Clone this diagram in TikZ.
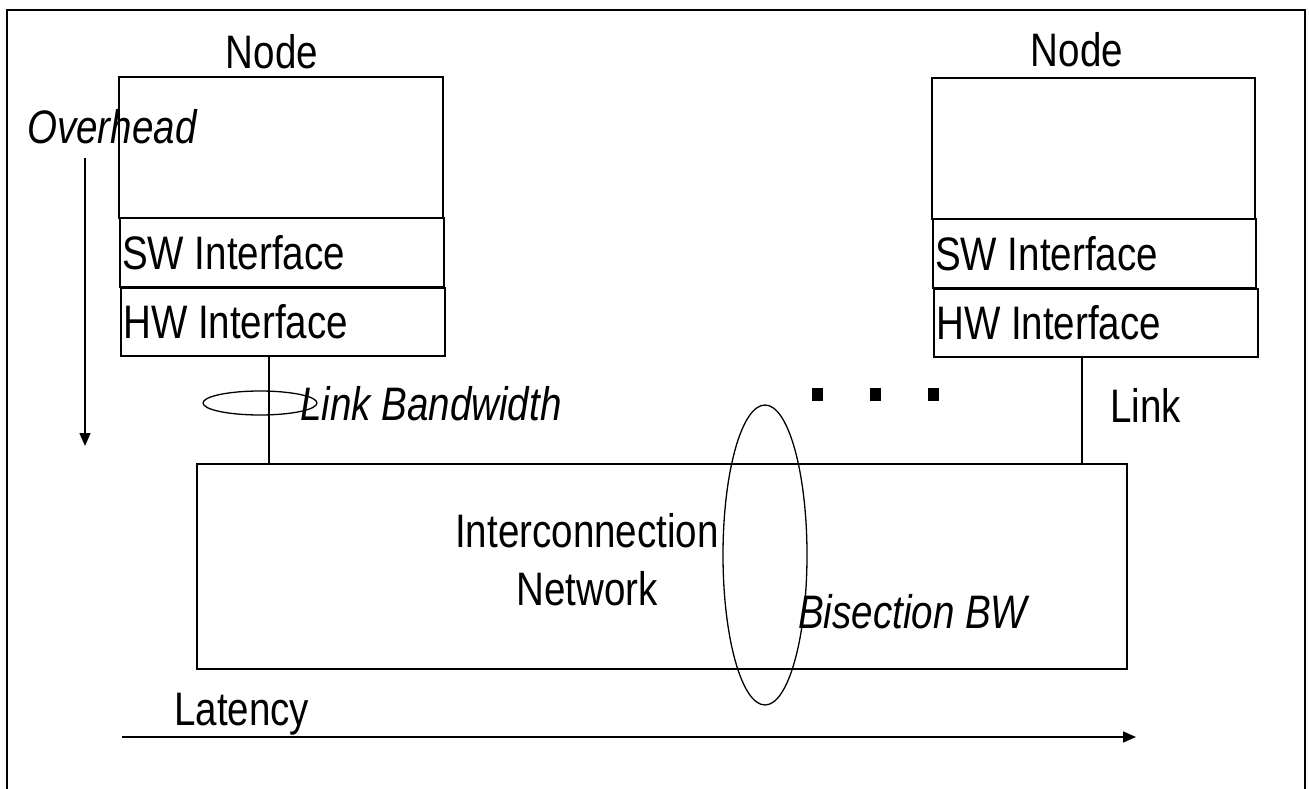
\documentclass[tikz,border=0pt]{standalone}
\usepackage{fontspec}
\setmainfont{Liberation Sans}[FakeStretch=0.82]
\usetikzlibrary{arrows.meta}
\begin{document}
\begin{tikzpicture}[x=1pt,y=-1pt,
  box/.style={draw,line width=1.6pt,inner sep=0pt,anchor=north west},
  lbl/.style={inner sep=0pt,anchor=base west,font=\fontsize{47}{52}\selectfont},
  ilbl/.style={lbl,font=\fontsize{47}{52}\selectfont\itshape},
  conn/.style={line width=1.2pt},
  arr/.style={line width=1.5pt,-{Triangle[length=13pt,width=11pt]}},
  dot/.style={fill=black,draw=none,inner sep=0pt,minimum width=11pt,minimum height=13pt,anchor=north west}]
\useasboundingbox (0,0) rectangle (1309,789);
\coordinate (fbl) at (7,789);
\coordinate (ftl) at (7,10);
\coordinate (ftr) at (1305,10);
\coordinate (fbr) at (1305,789);
\draw[line width=2.4pt] (fbl) -- (ftl) -- (ftr) -- (fbr);
% left node
\node[box,minimum width=324pt,minimum height=141pt] (n1) at (118,76) {};
\node[box,minimum width=324pt,minimum height=69pt] (sw1) at (119,217) {};
\node[box,minimum width=324pt,minimum height=68pt] (hw1) at (120,287) {};
% right node
\node[box,minimum width=323pt,minimum height=141pt] (n2) at (931,77) {};
\node[box,minimum width=323pt,minimum height=69pt] (sw2) at (932,218) {};
\node[box,minimum width=324pt,minimum height=68pt] (hw2) at (933,288) {};
% network
\node[box,minimum width=930pt,minimum height=205pt] (net) at (196,463) {};
% labels
\node[lbl,anchor=base] (node1) at (272,69) {Node};
\node[lbl,anchor=base] (node2) at (1077,67) {Node};
\node[lbl] (swt1) at (122,269) {SW Interface};
\node[lbl] (hwt1) at (123,338) {HW Interface};
\node[lbl] (swt2) at (935,270) {SW Interface};
\node[lbl] (hwt2) at (936,339) {HW Interface};
\node[ilbl] (ovh) at (27,143) {Overhead};
\node[ilbl] (lbw) at (300,420) {Link Bandwidth};
\node[lbl] (lnk) at (1110,422) {Link};
\node[lbl,anchor=base] (ic1) at (587,547) {Interconnection};
\node[lbl,anchor=base] (ic2) at (587,605) {Network};
\node[ilbl] (bis) at (798,628) {Bisection BW};
\node[lbl] (lat) at (174,725) {Latency};
% links
\coordinate (l1top) at (269,355);
\coordinate (l1bot) at (269,463);
\coordinate (l2top) at (1082,356);
\coordinate (l2bot) at (1082,463);
\draw[conn] (l1top) -- (l1bot);
\draw[conn] (l2top) -- (l2bot);
% ellipses
\coordinate (e1) at (260,403);
\coordinate (e2) at (765,555);
\draw[line width=1.3pt] (e1) ellipse [x radius=57, y radius=12];
\draw[line width=1.3pt] (e2) ellipse [x radius=42, y radius=150];
% dots
\node[dot] (d1) at (812,388) {};
\node[dot] (d2) at (870,388) {};
\node[dot] (d3) at (928,388) {};
% arrows
\coordinate (oa) at (85,158);
\coordinate (ob) at (85,446);
\draw[arr] (oa) -- (ob);
\coordinate (la) at (122,737);
\coordinate (lb) at (1136,737);
\draw[arr] (la) -- (lb);
\end{tikzpicture}
\end{document}
